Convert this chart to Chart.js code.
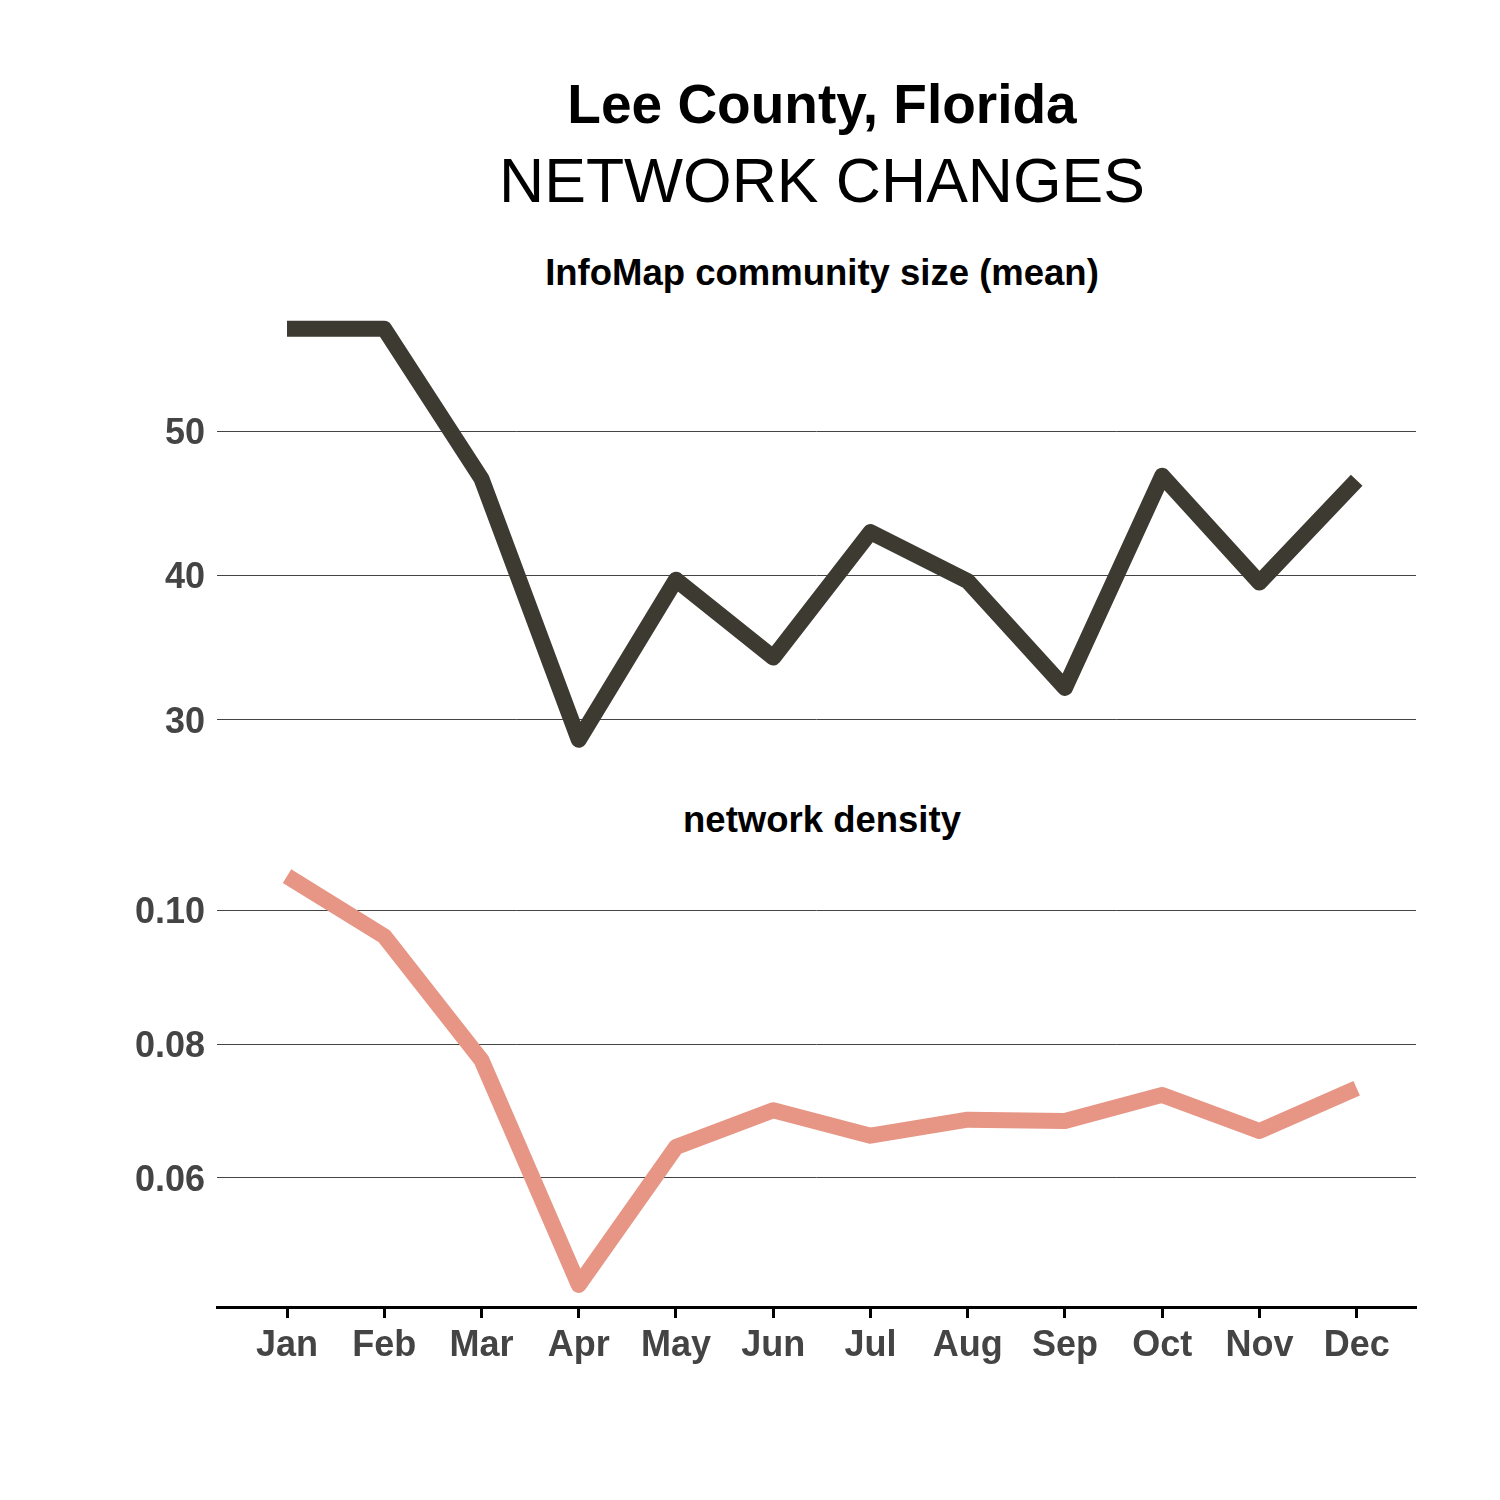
<!DOCTYPE html>
<html>
<head>
<meta charset="utf-8">
<script src="https://cdn.jsdelivr.net/npm/chart.js@4"></script>
<style>
  body { margin: 0; background: #fff; font-family: "Liberation Sans", Arial, sans-serif; }
  #page { position: relative; width: 1500px; height: 1500px; }
  .txt { position: absolute; left: 0; width: 1500px; text-align: center; color: #000; padding-left: 144px; box-sizing: border-box; }
  .wrap { position: absolute; left: 0; width: 1500px; }
</style>
</head>
<body>
<div id="page">
  <div class="txt" style="top:72px; font-size:55px; font-weight:bold;">Lee County, Florida</div>
  <div class="txt" style="top:144px; font-size:62.5px;">NETWORK CHANGES</div>
  <div class="txt" style="top:252px; font-size:36.5px; font-weight:bold;">InfoMap community size (mean)</div>
  <div class="txt" style="top:799px; font-size:36.5px; font-weight:bold;">network density</div>
  <div class="wrap" style="top:300px; height:470px;"><canvas id="topChart"></canvas></div>
  <div class="wrap" style="top:840px; height:560px;"><canvas id="bottomChart"></canvas></div>
</div>
<script>
// data
const months = ['Jan', 'Feb', 'Mar', 'Apr', 'May', 'Jun', 'Jul', 'Aug', 'Sep', 'Oct', 'Nov', 'Dec'];
const communitySize = [57.1, 57.1, 46.7, 28.6, 39.7, 34.3, 43.0, 39.6, 32.2, 46.9, 39.5, 46.6];
const density = [0.1051, 0.0961, 0.0776, 0.0440, 0.0646, 0.0701, 0.0663, 0.0687, 0.0685, 0.0724, 0.0670, 0.0734];
const sizeTicks = [30, 40, 50];
const densityTicks = [0.06, 0.08, 0.10];

const tickFont = { family: 'Liberation Sans', size: 36, weight: 'bold' };
const leftEdge = 217;
const rightPad = 84;

function points(values) {
    return values.map((v, i) => ({ x: i, y: v }));
}

function xScale(show) {
    return {
        type: 'linear',
        display: show,
        min: -0.72,
        max: 11.61,
        afterBuildTicks: axis => { axis.ticks = months.map((m, i) => ({ value: i })); },
        afterFit: axis => {
            if (show) axis.height = 80;
            axis.paddingLeft = 0;
            axis.paddingRight = 0;
        },
        ticks: {
            font: tickFont,
            color: '#444',
            padding: 6,
            maxRotation: 0,
            autoSkip: false,
            callback: v => months[v]
        },
        grid: {
            drawOnChartArea: false,
            drawTicks: true,
            tickLength: 11,
            tickColor: '#000',
            tickWidth: 3
        },
        border: { display: true, color: '#000', width: 3 }
    };
}

function yScale(min, max, tickValues, fmt) {
    return {
        min: min,
        max: max,
        afterBuildTicks: axis => { axis.ticks = tickValues.map(v => ({ value: v })); },
        afterFit: axis => {
            axis.width = leftEdge;
            axis.paddingTop = 0;
            axis.paddingBottom = 0;
        },
        ticks: {
            font: tickFont,
            color: '#444',
            padding: 12,
            labelOffset: 3,
            callback: fmt
        },
        grid: { color: '#444', lineWidth: 1, drawTicks: false },
        border: { display: false }
    };
}

const common = {
    responsive: true,
    maintainAspectRatio: false,
    animation: false,
    plugins: { legend: { display: false }, tooltip: { enabled: false } },
    elements: { point: { radius: 0 } }
};

new Chart(document.getElementById('topChart'), {
    type: 'line',
    data: {
        datasets: [{
            data: points(communitySize),
            borderColor: '#3d3a31',
            borderWidth: 16,
            borderJoinStyle: 'round',
            borderCapStyle: 'butt',
            tension: 0
        }]
    },
    options: {
        ...common,
        layout: { padding: { top: 10, bottom: 10, left: 0, right: rightPad } },
        scales: {
            x: xScale(false),
            y: yScale(27.2, 58.4, sizeTicks, v => String(v))
        }
    }
});

new Chart(document.getElementById('bottomChart'), {
    type: 'line',
    data: {
        datasets: [{
            data: points(density),
            borderColor: '#e79585',
            borderWidth: 16,
            borderJoinStyle: 'round',
            borderCapStyle: 'butt',
            tension: 0
        }]
    },
    options: {
        ...common,
        layout: { padding: { top: 10, bottom: 13, left: 0, right: rightPad } },
        scales: {
            x: xScale(true),
            y: yScale(0.0407, 0.109, densityTicks, v => v.toFixed(2))
        }
    }
});
</script>
</body>
</html>
